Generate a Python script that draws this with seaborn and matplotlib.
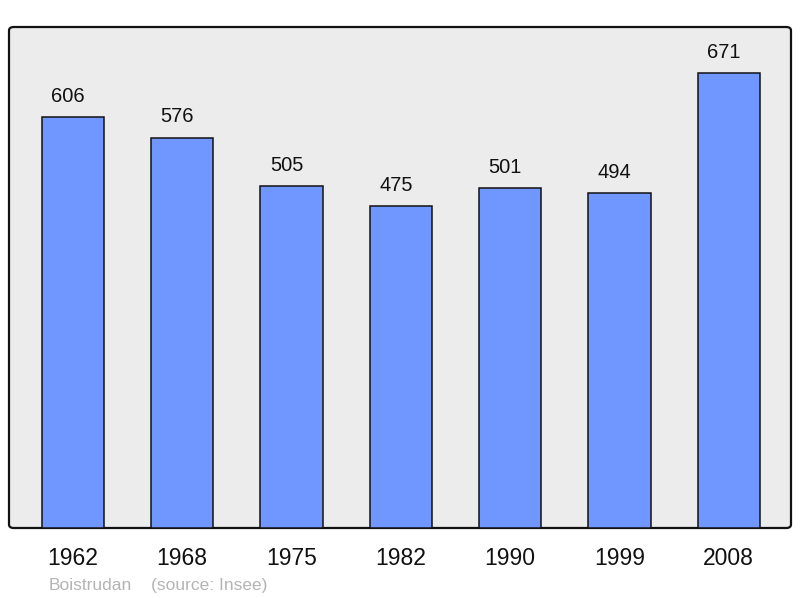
import matplotlib
matplotlib.use("Agg")
import matplotlib.pyplot as plt
import seaborn as sns
import pandas as pd
from matplotlib.patches import FancyBboxPatch

years = ["1962", "1968", "1975", "1982", "1990", "1999", "2008"]
population = [606, 576, 505, 475, 501, 494, 671]
footer_place = "Boistrudan"
footer_source = "(source: Insee)"

sns.set_theme(style="white")
plt.rcParams["font.family"] = ["Liberation Sans", "DejaVu Sans"]

df = pd.DataFrame({"year": years, "pop": population})

fig = plt.figure(figsize=(8, 5.98), dpi=100)
ax = fig.add_axes([9/800, 70/598, 782/800, 501/598])
ax.set_facecolor("none")

# rounded frame
frame = FancyBboxPatch((9/800, 70/598), 782/800, 501/598,
                       boxstyle="round,pad=0,rounding_size=0.006",
                       transform=fig.transFigure, facecolor="#ececec",
                       edgecolor="#111111", linewidth=1.6, zorder=0,
                       clip_on=False)
ax.add_patch(frame)

sns.barplot(data=df, x="year", y="pop", ax=ax, color="#7096ff",
            saturation=1, width=0.57, edgecolor="#111111", linewidth=1.1,
            zorder=2)

for i, v in enumerate(population):
    ax.annotate(str(v), (i, v), xytext=(-3.5, 8), textcoords="offset points",
                ha="center", va="bottom", fontsize=14.5, color="#111111")

ax.set_xlim(-0.585, 6.57)
ax.set_ylim(0, 739)
for s in ax.spines.values():
    s.set_visible(False)
ax.set_yticks([])
ax.set_xlabel("")
ax.set_ylabel("")
ax.tick_params(axis="x", length=0, pad=14, labelsize=16.5, labelcolor="#111111")

fig.text(49/800, 1 - 590/598, footer_place, ha="left", va="baseline",
         fontsize=12.5, color="#b4b4b4")
fig.text(151/800, 1 - 590/598, footer_source, ha="left", va="baseline",
         fontsize=12.5, color="#b4b4b4")

fig.savefig("out.png", dpi=100, facecolor="white")
